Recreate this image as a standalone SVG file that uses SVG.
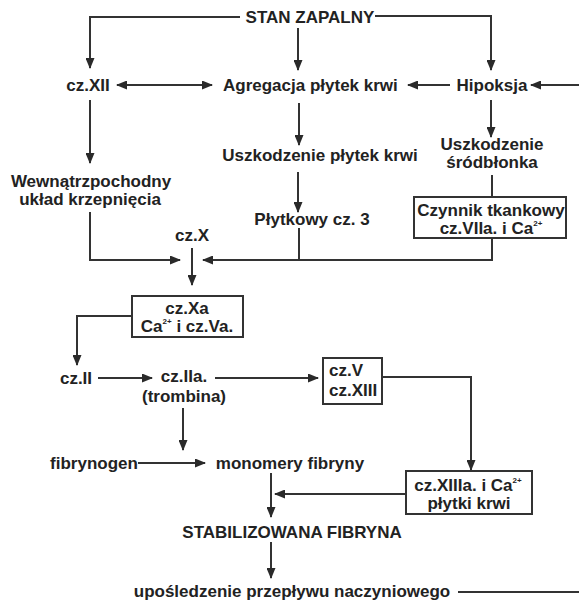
<svg xmlns="http://www.w3.org/2000/svg" width="579" height="601" viewBox="0 0 579 601">
<defs>
<marker id="ah" markerUnits="userSpaceOnUse" markerWidth="11" markerHeight="9" refX="10" refY="4.5" orient="auto-start-reverse">
<path d="M0,0 L11,4.5 L0,9 z" fill="#2a2a2a"/>
</marker>
<style>
text{font-family:"Liberation Sans",Arial,sans-serif;font-weight:bold;font-size:17px;fill:#222;}
.m{text-anchor:middle;}
.sup{font-size:8px;}
.c{fill:none;stroke:#333;stroke-width:2;}
.a{marker-end:url(#ah);}
.box{fill:#fff;stroke:#333;stroke-width:2;}
</style>
</defs>
<rect width="579" height="601" fill="#fff"/>
<g id="connectors">
<path class="c a" d="M240,17 H90 V68"/>
<path class="c a" d="M298,28 V70"/>
<path class="c a" d="M375,16 H491 V70"/>
<path class="c a" d="M117,85 H212" marker-start="url(#ah)"/>
<path class="c a" d="M450,85 H408"/>
<path class="c a" d="M579,85 H531"/>
<path class="c a" d="M90,100 V163"/>
<path class="c a" d="M299,103 V145"/>
<path class="c a" d="M491,100 V137"/>
<path class="c a" d="M298,172 V212"/>
<path class="c" d="M492,175 V198"/>
<path class="c a" d="M90,212 V260 H180"/>
<path class="c a" d="M492,238 V260 H203"/>
<path class="c" d="M299,228 V260"/>
<path class="c a" d="M192,248 V285"/>
<path class="c a" d="M132,316 H77 V365"/>
<path class="c a" d="M98,378 H152"/>
<path class="c a" d="M215,378 H318"/>
<path class="c a" d="M382,377 H471 V470"/>
<path class="c a" d="M183,408 V450"/>
<path class="c a" d="M138,463 H205"/>
<path class="c a" d="M271,473 V517"/>
<path class="c a" d="M406,494 H275"/>
<path class="c a" d="M271,542 V578"/>
<path class="c" d="M458,592 H579"/>
</g>
<g id="stan-zapalny"><text class="m" x="310" y="23">STAN ZAPALNY</text></g>
<g id="cz-xii"><text class="m" x="88" y="91">cz.XII</text></g>
<g id="agregacja"><text x="223" y="91">Agregacja płytek krwi</text></g>
<g id="hipoksja"><text class="m" x="492" y="91">Hipoksja</text></g>
<g id="uszkodzenie-plytek"><text class="m" x="320" y="161">Uszkodzenie płytek krwi</text></g>
<g id="uszkodzenie-srodblonka"><text class="m" x="492" y="150">Uszkodzenie</text><text class="m" x="492" y="168">śródbłonka</text></g>
<g id="wewnatrzpochodny"><text class="m" x="91" y="187">Wewnątrzpochodny</text><text class="m" x="90" y="205">układ krzepnięcia</text></g>
<g id="plytkowy"><text class="m" x="312" y="225">Płytkowy cz. 3</text></g>
<g id="czynnik-tkankowy"><rect class="box" x="414" y="197" width="152" height="41"/><text class="m" x="491" y="216">Czynnik tkankowy</text><text class="m" x="491" y="234">cz.VIIa. i Ca<tspan class="sup" dy="-8">2+</tspan></text></g>
<g id="cz-x"><text class="m" x="192" y="241">cz.X</text></g>
<g id="cz-xa"><rect class="box" x="132" y="296" width="111" height="41"/><text class="m" x="187" y="314">cz.Xa</text><text class="m" x="187" y="332">Ca<tspan class="sup" dy="-8">2+</tspan><tspan dy="8"> i cz.Va.</tspan></text></g>
<g id="cz-ii"><text class="m" x="76" y="384">cz.II</text></g>
<g id="cz-iia"><text class="m" x="184" y="382">cz.IIa.</text><text class="m" x="184" y="402">(trombina)</text></g>
<g id="cz-v"><rect class="box" x="323" y="358" width="59" height="46"/><text x="329" y="376">cz.V</text><text x="329" y="396">cz.XIII</text></g>
<g id="fibrynogen"><text class="m" x="94" y="469">fibrynogen</text></g>
<g id="monomery"><text class="m" x="290" y="469">monomery fibryny</text></g>
<g id="cz-xiiia"><rect class="box" x="406" y="471" width="126" height="43"/><text class="m" x="468" y="491">cz.XIIIa. i Ca<tspan class="sup" dy="-8">2+</tspan></text><text class="m" x="469" y="509">płytki krwi</text></g>
<g id="stabilizowana"><text class="m" x="292" y="538">STABILIZOWANA FIBRYNA</text></g>
<g id="uposledzenie"><text class="m" x="292" y="597">upośledzenie przepływu naczyniowego</text></g>
</svg>
